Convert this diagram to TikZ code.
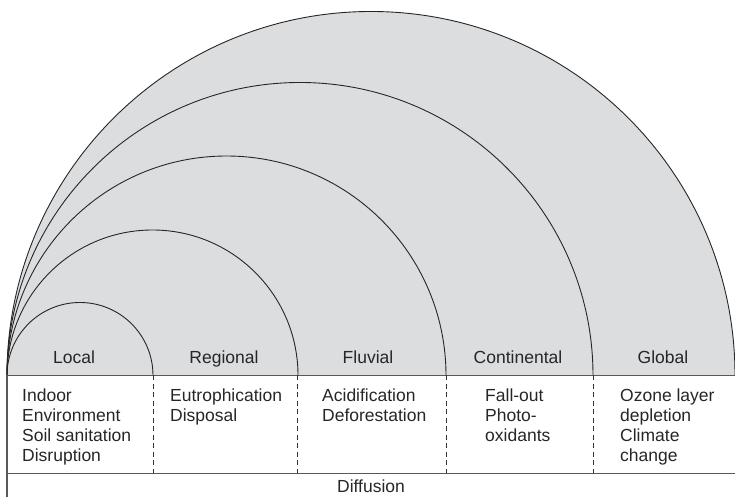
\documentclass[tikz,border=0pt]{standalone}
\usepackage{fontspec}
\setmainfont{Liberation Sans}
\begin{document}
\begin{tikzpicture}[x=1pt,y=1pt,
  arcline/.style={draw=black!85, line width=0.9pt},
  rule/.style={draw=black!65, line width=1.4pt},
  sep/.style={draw=black!80, line width=0.8pt, dash pattern=on 5pt off 3.5pt},
  lbl/.style={anchor=base, inner sep=0pt, font=\fontsize{17.5}{20}\selectfont, text=black!85},
  cell/.style={anchor=north west, inner sep=0pt, align=left, font=\fontsize{17.5}{20}\selectfont, text=black!85}]
\useasboundingbox (0,0) rectangle (735,497);
% gray fill
\fill[fill={rgb,255:red,220;green,221;blue,223}] (7,121.5) arc[start angle=180,end angle=0,radius=364] -- cycle;
% arcs
\coordinate (o) at (7,121.5);
\draw[arcline] (o) arc[start angle=180,end angle=0,radius=364];
\draw[arcline] (o) arc[start angle=180,end angle=0,radius=293];
\draw[arcline] (o) arc[start angle=180,end angle=0,radius=219.5];
\draw[arcline] (o) arc[start angle=180,end angle=0,radius=145.5];
\draw[arcline] (o) arc[start angle=180,end angle=0,radius=73];
% rules
\coordinate (tl) at (7,121.5);
\coordinate (tr) at (735,121.5);
\coordinate (bl) at (7,23.5);
\coordinate (br) at (735,23.5);
\coordinate (bb) at (7,0);
\draw[rule] (tl) -- (tr);
\draw[rule] (bl) -- (br);
\draw[rule] (tl) -- (bb);
% dashed separators
\foreach \xx/\nm in {153/a,297.5/b,446.5/c,593/d}{
  \coordinate (s\nm t) at (\xx,121.5);
  \coordinate (s\nm b) at (\xx,23.5);
  \draw[sep] (s\nm t) -- (s\nm b);
}
% labels
\node[lbl] (local) at (74,133) {Local};
\node[lbl] (regional) at (224,133) {Regional};
\node[lbl] (fluvial) at (368,133) {Fluvial};
\node[lbl] (continental) at (518,133) {Continental};
\node[lbl] (global) at (663,133) {Global};
% cells
\node[cell] (c1) at (22,108.5) {Indoor\\Environment\\Soil sanitation\\Disruption};
\node[cell] (c2) at (170,108.5) {Eutrophication\\Disposal};
\node[cell] (c3) at (322,108.5) {Acidification\\Deforestation};
\node[cell] (c4) at (485,108.5) {Fall-out\\Photo-\\oxidants};
\node[cell] (c5) at (620,108.5) {Ozone layer\\depletion\\Climate\\change};
\node[lbl] (diff) at (371,4) {Diffusion};
\end{tikzpicture}
\end{document}
